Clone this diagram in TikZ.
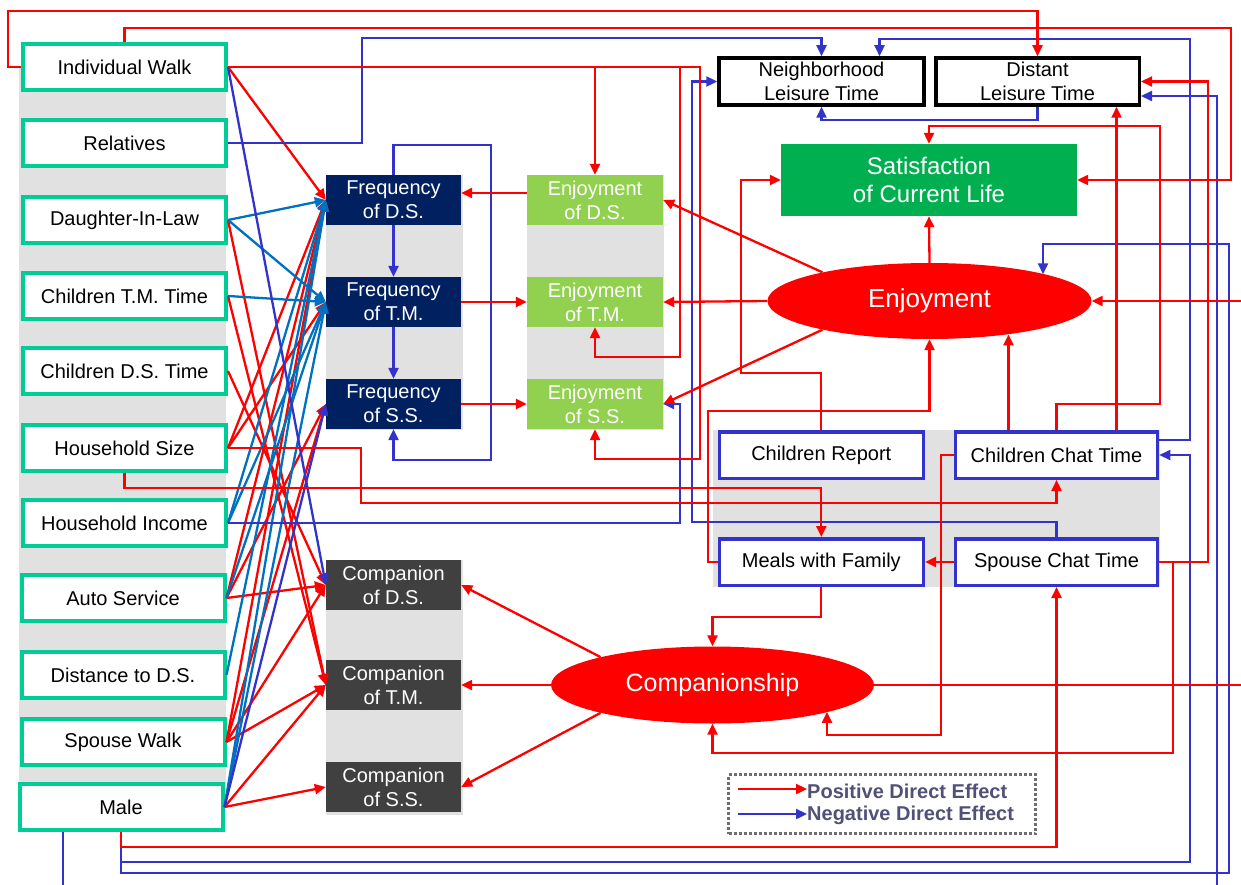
\documentclass[tikz,border=0pt]{standalone}
\usepackage{fontspec}
\setmainfont{Liberation Sans}
\usetikzlibrary{arrows.meta,shapes.geometric}
\definecolor{posred}{RGB}{255,0,0}
\definecolor{negblue}{RGB}{51,51,204}
\definecolor{fanblue}{RGB}{0,112,192}
\definecolor{tealbd}{RGB}{0,204,150}
\definecolor{navy}{RGB}{0,32,96}
\definecolor{compgray}{RGB}{64,64,64}
\definecolor{enjgreen}{RGB}{146,208,80}
\definecolor{satgreen}{RGB}{0,176,80}
\definecolor{bggray}{RGB}{225,225,225}
\definecolor{leggray}{RGB}{110,110,110}
\definecolor{legtext}{RGB}{80,80,120}
\begin{document}
\begin{tikzpicture}[x=1pt,y=-1pt,
    txt/.style={font=\fontsize{20}{24}\selectfont, align=center, inner sep=1pt},
    leftbox/.style={txt, draw=tealbd, line width=4pt, fill=white, minimum width=203, minimum height=46},
    freqbox/.style={txt, fill=navy, text=white, minimum width=135, minimum height=50},
    enjbox/.style={txt, fill=enjgreen, text=white, minimum width=136, minimum height=50},
    compbox/.style={txt, fill=compgray, text=white, minimum width=135, minimum height=50},
    leisbox/.style={txt, draw=black, line width=3.5pt, fill=white, minimum width=205, minimum height=47},
    chatbox/.style={txt, draw=negblue, line width=3.5pt, fill=white, minimum width=204, minimum height=46.5},
    satbox/.style={txt, fill=satgreen, text=white, minimum width=296, minimum height=72, font=\fontsize{24}{28}\selectfont},
    latent/.style={ellipse, fill=posred, text=white, inner sep=0pt, minimum width=324, minimum height=76},
    legtxt/.style={anchor=west, inner sep=0pt, font=\bfseries\fontsize{20}{24}\selectfont, text=legtext},
    posline/.style={color=posred, line width=2.3pt, -{Triangle[length=11pt,width=10pt]}},
    negline/.style={posline, color=negblue},
    fanline/.style={posline, color=fanblue}]
  \useasboundingbox (0,0) rectangle (1241,885);
  \clip (0,0) rectangle (1241,885);

  % grey bands
  \fill[bggray] (19,67) rectangle (226,807);
  \fill[bggray] (326,175) rectangle (463,430);
  \fill[bggray] (527,175) rectangle (664,430);
  \fill[bggray] (326,560) rectangle (463,815);
  \fill[bggray] (713,430) rectangle (1160,587);

  % exogenous variables
  \node[leftbox] (iw) at (124.5,67) {Individual Walk};
  \node[leftbox] (rel) at (124.5,143) {Relatives};
  \node[leftbox] (dil) at (124.5,220) {Daughter-In-Law};
  \node[leftbox] (ctmt) at (124.5,296) {Children T.M. Time};
  \node[leftbox] (cdst) at (124.5,371) {Children D.S. Time};
  \node[leftbox] (hsize) at (124.5,448) {Household Size};
  \node[leftbox] (hinc) at (124.5,523) {Household Income};
  \node[leftbox] (auto) at (123,598) {Auto Service};
  \node[leftbox] (dist) at (123,675) {Distance to D.S.};
  \node[leftbox] (sw) at (123,742) {Spouse Walk};
  \node[leftbox] (male) at (121,807) {Male};

  \node[freqbox] (fds) at (393.5,200) {Frequency\\of D.S.};
  \node[freqbox] (ftm) at (393.5,302) {Frequency\\of T.M.};
  \node[freqbox] (fss) at (393.5,404) {Frequency\\of S.S.};
  \node[enjbox] (eds) at (595,200) {Enjoyment\\of D.S.};
  \node[enjbox] (etm) at (595,302) {Enjoyment\\of T.M.};
  \node[enjbox] (ess) at (595,404) {Enjoyment\\of S.S.};
  \node[compbox] (cds) at (393.5,585) {Companion\\of D.S.};
  \node[compbox] (ctm) at (393.5,685) {Companion\\of T.M.};
  \node[compbox] (css) at (393.5,787) {Companion\\of S.S.};

  \node[leisbox] (nlt) at (821.5,81.5) {Neighborhood\\Leisure Time};
  \node[leisbox, minimum width=203.5] (dlt) at (1037.5,81.5) {Distant\\Leisure Time};
  \node[satbox] (sat) at (929,180) {Satisfaction\\of Current Life};
  \node[latent, font=\fontsize{26}{30}\selectfont] (enj) at (929.5,301) {Enjoyment};
  \node[latent, minimum width=323, minimum height=77, font=\fontsize{25}{30}\selectfont] (comp) at (712.5,685) {Companionship};
  \node[chatbox] (crep) at (821.3,455) {Children Report};
  \node[chatbox, minimum width=202] (cct) at (1056.5,455) {Children Chat Time};
  \node[chatbox] (meals) at (821.3,562) {Meals with Family};
  \node[chatbox, minimum width=202] (sct) at (1056.5,562) {Spouse Chat Time};
  \coordinate (cctl) at ([xshift=-48pt]cct.north);
  \coordinate (cctr) at ([xshift=60pt]cct.north);

  % left fan
  \begin{scope}[posline]
    \draw (iw.east) to (fds.west);
    \draw (dil.east) to (ctm.west);
    \draw (ctmt.east) to (ctm.west);
    \draw (cdst.east) to (cds.west);
    \draw (hsize.east) to (fds.west);
    \draw (hsize.east) to (ftm.west);
    \draw (auto.east) to (fds.west);
    \draw (auto.east) to (fss.west);
    \draw (auto.east) to (cds.west);
    \draw (sw.east) to (fds.west);
    \draw (sw.east) to (fss.west);
    \draw (sw.east) to (cds.west);
    \draw (sw.east) to (ctm.west);
    \draw (male.east) to (ctm.west);
    \draw (male.east) to (css.west);
  \end{scope}
  \begin{scope}[fanline]
    \draw (dil.east) to (fds.west);
    \draw (dil.east) to (ftm.west);
    \draw (ctmt.east) to (ftm.west);
    \draw (hinc.east) to (fds.west);
    \draw (hinc.east) to (ftm.west);
    \draw (auto.east) to (ftm.west);
    \draw (dist.east) to (fds.west);
    \draw (male.east) to (fds.west);
    \draw (male.east) to (ftm.west);
  \end{scope}

  % negative effects
  \begin{scope}[negline]
    \draw (iw.east) to (cds.west);
    \draw (male.east) to (fss.west);
    \draw (fds.south) to (ftm.north);
    \draw (ftm.south) to (fss.north);
    \draw (fds.north) -- ++(0,-30) -| (491,460) -| (fss.south);
    \draw (rel.east) -| (362,38) -| (nlt.north);
    \draw (hinc.east) -| (680,404) -- (ess.east);
    \draw (dlt.south) -- ++(0,13) -| (nlt.south);
    \draw ([yshift=15pt]cct.east) -| (1190,39) -| ([xshift=58pt]nlt.north);
    \draw (sct.north) |- (692,522) |- (nlt.west);
    \draw (male.south) |- (1190,862) |- (cct.east);
    \draw (male.south) |- (1229,873) |- (1043,244) -- (1043,244 |- enj.13);
    \draw ([xshift=-58pt]male.south) -- ++(0,70) -| (1217,96) -- ([yshift=-14.5pt]dlt.east);
  \end{scope}

  % positive effects
  \begin{scope}[posline]
    \draw ([yshift=7pt]eds.west) to ([yshift=7pt]fds.east);
    \draw (ftm.east) to (etm.west);
    \draw (fss.east) to (ess.west);
    \draw (iw.east) -| (eds.north);
    \draw (iw.east) -- (680,67) |- (595,357) -- (etm.south);
    \draw (iw.east) -- (700,67) |- (595,459) -- (ess.south);
    \draw (iw.west) -- (8,67) |- (1037.5,11) -- (dlt.north);
    \draw (iw.north) |- (1231,28) |- (sat.east);
    \draw (hsize.east) -| (361,503) -| (cct.south);
    \draw (hsize.south) -- ++(0,15) -| (meals.north);
    \draw (male.south) -- ++(0,15) -| (sct.south);
    \draw (enj.north) to (sat.south);
    \draw (enj.165) to (eds.east);
    \draw (enj.west) to (etm.east);
    \draw (enj.195) to (ess.east);
    \draw (comp.166) to (cds.east);
    \draw (comp.west) to (ctm.east);
    \draw (comp.194) to (css.east);
    \draw (comp.east) -- (1255,685) |- (enj.east);
    \draw (crep.north) |- (741,373) |- (sat.west);
    \draw (cct.north) |- (1160,404) |- (929,126) -- (sat.north);
    \draw (cctr) -- (cctr |- dlt.south);
    \draw (cctl) -- (cctl |- enj.-23);
    \draw (cct.west) -- (941,455) |- (827,735) -- (827,735 |- comp.-13);
    \draw (meals.west) -| (708,411) -| (enj.south);
    \draw (meals.south) -- ++(0,30) -| (comp.north);
    \draw (sct.west) to (meals.east);
    \draw (sct.east) -| (1208,81.5) -- (dlt.east);
    \draw (sct.east) -| (1173,753) -| (comp.south);
  \end{scope}

  % legend
  \node[draw=leggray, dotted, line width=3pt, minimum width=307, minimum height=59] (leg) at (882,804) {};
  \node[legtxt] (lpos) at (807,791) {Positive Direct Effect};
  \node[legtxt] (lneg) at (807,815) {Negative Direct Effect};
  \coordinate (lp) at (738,789);
  \coordinate (ln) at (738,814);
  \draw[posline] (lp) -- (lp -| lpos.west);
  \draw[negline] (ln) -- (ln -| lneg.west);
\end{tikzpicture}
\end{document}
